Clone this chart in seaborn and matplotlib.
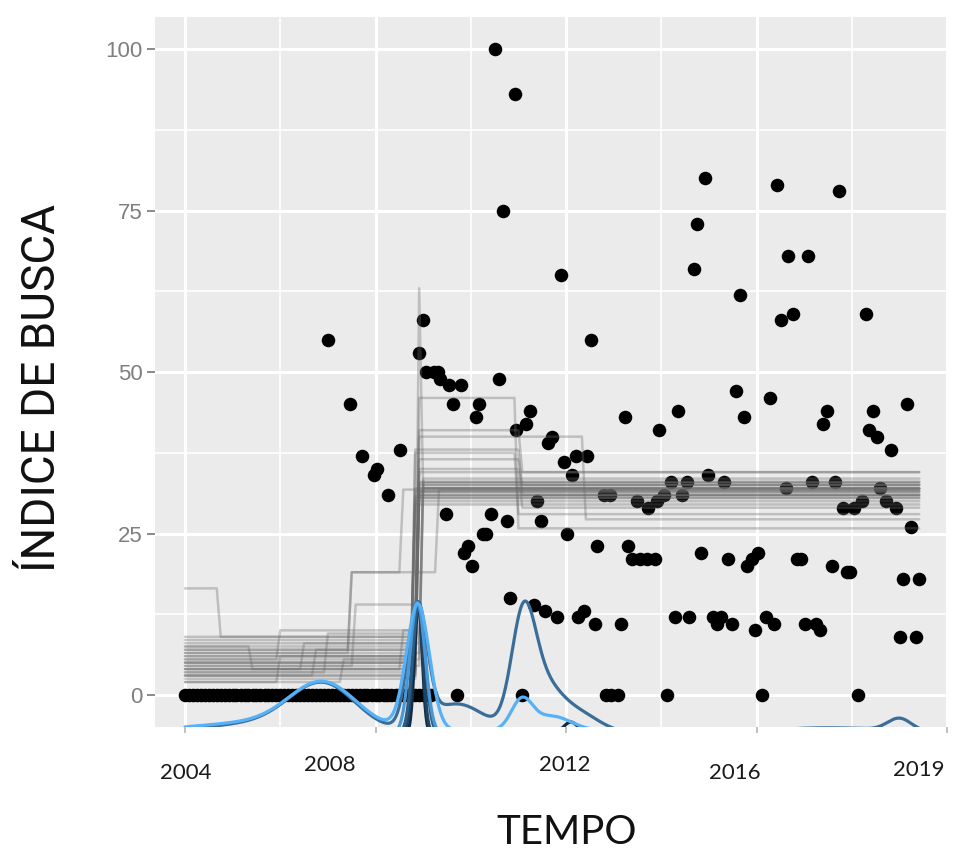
import numpy as np
import pandas as pd
import matplotlib
matplotlib.use("Agg")
import matplotlib.pyplot as plt
import matplotlib.transforms as mtransforms
from matplotlib.ticker import MultipleLocator
import seaborn as sns

#-----------------------------------------------------------------------------------------------------
# Dados
#-----------------------------------------------------------------------------------------------------
# Pontos com indice zero no inicio da serie (2004 - 2009)
anos_zerados = [
    2004.00, 2004.08, 2004.17, 2004.25, 2004.33, 2004.42, 2004.50, 2004.58, 2004.67, 2004.75, 2004.83, 2004.92,
    2005.00, 2005.08, 2005.17, 2005.25, 2005.33, 2005.42, 2005.50, 2005.58, 2005.67, 2005.75, 2005.83, 2005.92,
    2006.00, 2006.08, 2006.17, 2006.25, 2006.33, 2006.42, 2006.50, 2006.58, 2006.67, 2006.75, 2006.83, 2006.92,
    2007.00, 2007.08, 2007.17, 2007.25, 2007.33, 2007.42, 2007.50, 2007.58, 2007.67, 2007.75, 2007.83, 2007.92,
    2008.00, 2008.08, 2008.17, 2008.25, 2008.33, 2008.42, 2008.50, 2008.58, 2008.67, 2008.75, 2008.83, 2008.92,
    2009.00, 2009.08, 2009.17,
]
indice_zerados = [
    0, 0, 0, 0, 0, 0, 0, 0, 0, 0, 0, 0,
    0, 0, 0, 0, 0, 0, 0, 0, 0, 0, 0, 0,
    0, 0, 0, 0, 0, 0, 0, 0, 0, 0, 0, 0,
    0, 0, 0, 0, 0, 0, 0, 0, 0, 0, 0, 0,
    0, 0, 0, 0, 0, 0, 0, 0, 0, 0, 0, 0,
    0, 0, 0,
]

# Demais pontos observados
anos_pontos = [
    2007.00, 2007.47, 2007.71, 2008.03, 2007.96, 2008.52, 2008.27, 2008.99, 2008.92, 2009.06,
    2009.22, 2009.32, 2009.36, 2009.55, 2009.80, 2010.60, 2009.62, 2010.18, 2010.11, 2010.95,
    2009.48, 2010.43, 2010.76, 2010.32, 2010.25, 2009.95, 2009.85, 2010.02, 2010.83, 2011.32,
    2011.56, 2011.81, 2011.07, 2009.71, 2011.39, 2011.47, 2012.03, 2011.95, 2012.12, 2011.70,
    2011.63, 2011.24, 2011.15, 2012.52, 2012.21, 2012.45, 2013.23, 2013.96, 2014.36, 2012.79,
    2012.93, 2013.49, 2013.72, 2013.90, 2014.05, 2014.20, 2014.53, 2014.43, 2014.99, 2012.66,
    2013.31, 2014.84, 2014.91, 2014.75, 2014.68, 2015.65, 2016.44, 2017.73, 2016.67, 2017.09,
    2016.77, 2016.51, 2018.29, 2010.51, 2010.92, 2010.67, 2011.90, 2015.57, 2015.73, 2016.28,
    2017.48, 2017.40, 2018.44, 2019.16, 2018.36, 2018.53, 2018.83, 2015.32, 2016.61, 2017.17,
    2017.64, 2017.81, 2018.04, 2018.22, 2018.60, 2018.71, 2018.92, 2019.25, 2016.04, 2013.38,
    2013.56, 2013.71, 2013.87, 2015.41, 2015.80, 2015.91, 2016.86, 2016.94, 2017.59, 2017.89,
    2017.97, 2019.08, 2019.41, 2012.26, 2012.37, 2012.61, 2013.16, 2014.28, 2014.59, 2015.08,
    2015.17, 2015.26, 2015.49, 2015.97, 2016.20, 2016.37, 2017.01, 2017.24, 2017.34, 2019.02,
    2019.34, 2012.83, 2012.95, 2013.10, 2014.12, 2016.12, 2018.13,
]
indice_pontos = [
    55, 45, 37, 35, 34, 38, 31, 58, 53, 50,
    50, 50, 49, 48, 48, 49, 45, 45, 43, 41,
    28, 28, 27, 25, 25, 23, 22, 20, 15, 14,
    13, 12, 0, 0, 30, 27, 25, 36, 34, 40,
    39, 44, 42, 55, 37, 37, 43, 41, 44, 31,
    31, 30, 29, 30, 31, 33, 33, 31, 34, 23,
    23, 22, 80, 73, 66, 62, 79, 78, 68, 68,
    59, 58, 59, 100, 93, 75, 65, 47, 43, 46,
    44, 42, 44, 45, 41, 40, 38, 33, 32, 33,
    33, 29, 29, 30, 32, 30, 29, 26, 22, 21,
    21, 21, 21, 21, 20, 21, 21, 21, 20, 19,
    19, 18, 18, 12, 13, 11, 11, 12, 12, 12,
    11, 12, 11, 10, 12, 11, 11, 11, 10, 9,
    9, 0, 0, 0, 0, 0, 0,
]

# Amostras do modelo de ponto de mudanca: instantes de corte e niveis de cada trecho
cortes_amostras = [
    [2004.75, 2008.90], [2005.95, 2008.90], [2006.50, 2008.92], [2007.00, 2008.82],
    [2007.43, 2008.58], [2007.43, 2009.29], [2007.53, 2008.90], [2008.90, 2011.00],
    [2008.90, 2012.35], [2008.82, 2011.05], [2008.88, 2011.05], [2008.92],
    [2008.82], [2008.88], [2008.82], [2008.92],
    [2008.90], [2008.82], [2008.90], [2008.95],
    [2008.88, 2008.96], [2008.90, 2011.05], [2006.00, 2008.82], [2008.90, 2011.05],
    [2008.58, 2008.90], [2008.82, 2010.95], [2008.90], [2005.40, 2008.90],
    [2006.75, 2008.90], [2007.30, 2008.82],
]
niveis_amostras = [
    [16.5, 9.0, 32.5], [5.5, 10.0, 31.5], [4.0, 8.0, 33.0], [3.5, 9.5, 30.5],
    [6.5, 19.0, 31.8], [7.0, 19.0, 31.8], [4.5, 14.0, 31.0], [7.5, 46.0, 25.8],
    [6.0, 40.0, 27.2], [5.0, 38.0, 31.0], [8.5, 36.5, 32.5], [4.5, 32.0],
    [6.0, 31.5], [3.0, 33.0], [7.0, 30.0], [5.5, 32.5],
    [2.5, 34.5], [8.0, 29.5], [4.0, 31.0], [6.5, 33.5],
    [5.0, 63.0, 32.0], [3.5, 35.0, 29.0], [2.0, 6.0, 32.0], [9.0, 41.0, 34.5],
    [4.0, 10.0, 32.0], [5.0, 37.5, 28.0], [3.0, 30.5], [7.5, 4.0, 31.5],
    [3.0, 7.0, 32.8], [2.0, 5.5, 30.8],
]

# Densidades dos pontos de mudanca (uma curva por cadeia): base, centros, larguras e alturas
nomes_cadeias = ["cadeia 5", "cadeia 1", "cadeia 2", "cadeia 3", "cadeia 4", "cadeia 6"]
base_cadeias = {"cadeia 1": -6.0, "cadeia 2": -6.0, "cadeia 3": -6.0,
                "cadeia 4": -6.0, "cadeia 5": -6.0, "cadeia 6": -5.5}
centros_cadeias = {
    "cadeia 1": [2008.90, 2012.10],
    "cadeia 2": [2008.89],
    "cadeia 3": [2008.91],
    "cadeia 4": [2008.88],
    "cadeia 5": [2005.5, 2006.9, 2008.88, 2009.7, 2011.10, 2011.5, 2012.15, 2017.5, 2019.0],
    "cadeia 6": [2005.5, 2006.9, 2008.89, 2011.07, 2011.7],
}
larguras_cadeias = {
    "cadeia 1": [0.08, 0.15],
    "cadeia 2": [0.10],
    "cadeia 3": [0.13],
    "cadeia 4": [0.16],
    "cadeia 5": [1.2, 0.7, 0.2, 0.6, 0.25, 0.35, 0.5, 1.4, 0.25],
    "cadeia 6": [1.2, 0.7, 0.24, 0.22, 0.4],
}
alturas_cadeias = {
    "cadeia 1": [20.3, 1.8],
    "cadeia 2": [20.3],
    "cadeia 3": [20.3],
    "cadeia 4": [20.3],
    "cadeia 5": [1.5, 7.2, 18.5, 4.6, 16.5, 6.0, 3.5, 0.9, 1.9],
    "cadeia 6": [1.2, 7.0, 19.5, 4.5, 2.2],
}
cores_cadeias = {"cadeia 1": "#132B43", "cadeia 2": "#1E4463", "cadeia 3": "#2B5D86",
                 "cadeia 4": "#4A98D6", "cadeia 5": "#3A6E99", "cadeia 6": "#56B1F7"}

# Rotulos do eixo x (colocados a mao na figura original)
rotulos_anos = ["2004", "2008", "2012", "2016", "2019"]
posicao_rotulos = [(2004.02, -0.064), (2007.05, -0.053), (2011.98, -0.053), (2015.55, -0.064), (2019.40, -0.060)]


#-----------------------------------------------------------------------------------------------------
# Function Name    : monta_degraus
# Description      : Avalia cada amostra (funcao degrau) numa grade mensal de tempo.
#-----------------------------------------------------------------------------------------------------
def monta_degraus():
    grade = 2004.0 + np.arange(186) / 12.0
    partes = []
    for i, (cortes, niveis) in enumerate(zip(cortes_amostras, niveis_amostras)):
        idx = np.searchsorted(cortes, grade, side="right")
        partes.append(pd.DataFrame({"ano": grade, "nivel": np.array(niveis)[idx], "amostra": i}))
    return pd.concat(partes, ignore_index=True)


#-----------------------------------------------------------------------------------------------------
# Function Name    : monta_densidades
# Description      : Curvas de densidade (nucleo gaussiano) de cada cadeia, deslocadas para a base.
#-----------------------------------------------------------------------------------------------------
def monta_densidades():
    grade = np.linspace(2004.0, 2019.42, 1500)
    partes = []
    for nome in nomes_cadeias:
        y = np.full_like(grade, base_cadeias[nome])
        for c, s, a in zip(centros_cadeias[nome], larguras_cadeias[nome], alturas_cadeias[nome]):
            y = y + a * np.exp(-0.5 * ((grade - c) / s) ** 2)
        partes.append(pd.DataFrame({"ano": grade, "dens": y, "curva": nome}))
    return pd.concat(partes, ignore_index=True)


#-----------------------------------------------------------------------------------------------------
# Function Name    : plot_indice_busca
#-----------------------------------------------------------------------------------------------------
def plot_indice_busca():
    sns.set_style("darkgrid", {"axes.facecolor": "#EBEBEB", "grid.color": "white",
                               "axes.edgecolor": "#EBEBEB"})
    plt.rcParams["font.family"] = ["Liberation Sans", "DejaVu Sans"]

    fig = plt.figure(figsize=(9.6, 8.51), dpi=100)
    ax = fig.add_axes([0.16146, 0.14548, 0.82604, 0.83455])

    df_pts = pd.DataFrame({"ano": anos_zerados + anos_pontos,
                           "indice": indice_zerados + indice_pontos})
    sns.scatterplot(data=df_pts, x="ano", y="indice", color="black", s=95,
                    linewidth=0, ax=ax, zorder=3, legend=False)

    sns.lineplot(data=monta_degraus(), x="ano", y="nivel", units="amostra", estimator=None,
                 color="#6A6A6A", alpha=0.35, lw=1.8, ax=ax, zorder=4, legend=False)

    sns.lineplot(data=monta_densidades(), x="ano", y="dens", hue="curva", hue_order=nomes_cadeias,
                 palette=cores_cadeias, estimator=None, lw=2.3, ax=ax, zorder=5, legend=False)

    ax.set_xlim(2003.37, 2020.02)
    ax.set_ylim(-5, 105)
    ax.set_xticks([2004, 2008, 2012, 2016, 2020])
    ax.xaxis.set_minor_locator(MultipleLocator(2))
    ax.set_yticks([0, 25, 50, 75, 100])
    ax.yaxis.set_minor_locator(MultipleLocator(12.5))
    ax.grid(which="major", color="white", lw=2.2)
    ax.grid(which="minor", color="white", lw=1.2)
    for s in ax.spines.values():
        s.set_visible(False)

    ax.tick_params(axis="y", which="major", left=True, length=6, width=1.4, color="#8A8A8A",
                   labelsize=16, labelcolor="#7F7F7F", pad=3)
    ax.tick_params(axis="x", which="major", bottom=True, length=4, width=1.2, color="#B5B5B5",
                   labelbottom=False)
    ax.tick_params(which="minor", length=0)
    ax.set_xlabel("")
    ax.set_ylabel("")

    trans = mtransforms.blended_transform_factory(ax.transData, ax.transAxes)
    for rotulo, (xp, yp) in zip(rotulos_anos, posicao_rotulos):
        ax.text(xp, yp, rotulo, transform=trans, ha="center", va="center", fontsize=16,
                family=["Lato", "DejaVu Sans"], color="#1A1A1A", clip_on=False)

    fig.text(42 / 960, 1 - 388 / 851, "ÍNDICE DE BUSCA", rotation=90, ha="center", va="center",
             fontsize=33, family=["Roboto", "DejaVu Sans"], color="#111111")
    fig.text(567 / 960, 1 - 832 / 851, "TEMPO", ha="center", va="center", fontsize=29,
             family=["Lato", "DejaVu Sans"], color="#111111")

    fig.savefig("out.png", dpi=100)


def main():
    plot_indice_busca()


if __name__ == "__main__":
    main()
